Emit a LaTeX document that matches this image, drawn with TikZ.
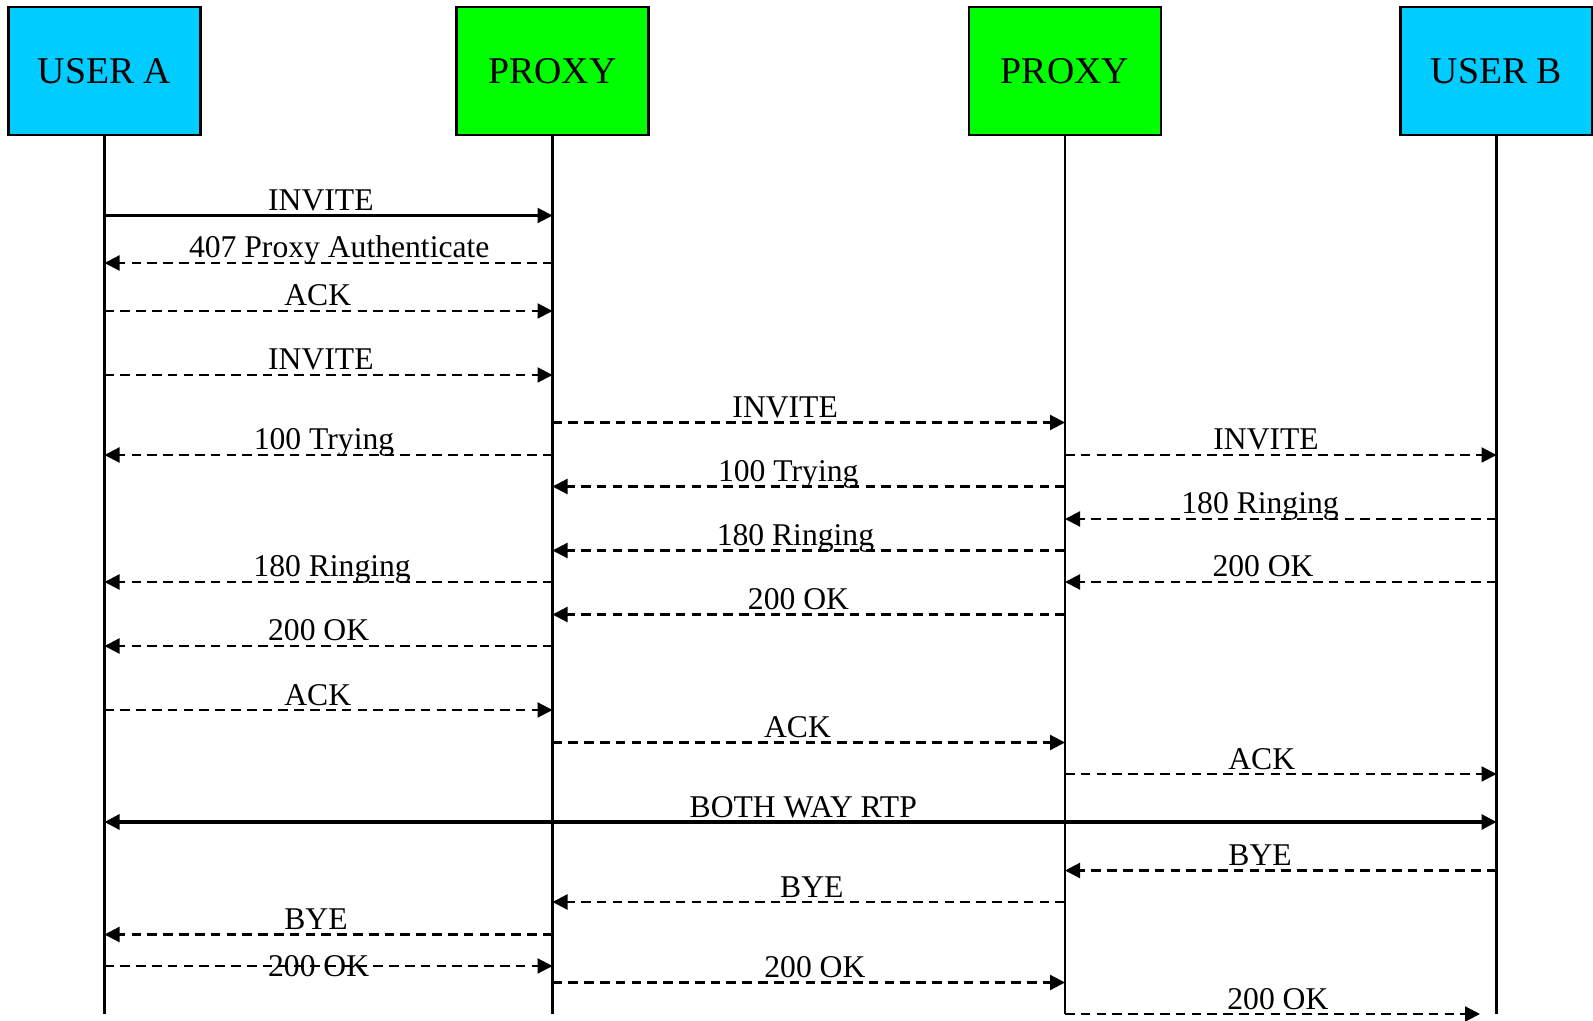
\documentclass[tikz,border=0pt]{standalone}
\usepackage{fontspec}
\setmainfont{Liberation Serif}
\usetikzlibrary{arrows.meta,positioning,calc}
\definecolor{ink}{HTML}{000000}
\definecolor{userfill}{HTML}{00CCFF}
\definecolor{proxyfill}{HTML}{00FF00}

\begin{document}
\begin{tikzpicture}[
  >={Triangle[length=0.3cm,width=0.3cm]},
  party/.style={draw=ink, line width=1.3pt, minimum width=3.84cm, minimum height=2.56cm,
    inner sep=0pt, font=\fontsize{21.5}{25}\selectfont},
  user/.style={party, fill=userfill},
  proxy/.style={party, fill=proxyfill},
  life/.style={draw=ink, line width=1.25pt},
  msg/.style={->, draw=ink, line width=1.25pt},
  dmsg/.style={msg, dash pattern=on 5.5pt off 3.5pt},
  rtp/.style={<->, draw=ink, line width=1.8pt},
  lbl/.style={font=\fontsize{18}{22}\selectfont, anchor=base, yshift=0.1cm, inner sep=0pt}
]
\useasboundingbox (0,0) rectangle (31.86,-20.42);

\node[user] (ua) at (2.09,-1.42) {USER A};
\node[proxy] (p1) at (11.05,-1.42) {PROXY};
\node[proxy] (p2) at (21.30,-1.42) {PROXY};
\node[user] (ub) at (29.93,-1.42) {USER B};

\coordinate (uaend) at (2.09,-20.28);
\coordinate (p1end) at (11.05,-20.28);
\coordinate (p2end) at (21.30,-20.28);
\coordinate (ubend) at (29.93,-20.28);
\foreach \n in {ua,p1,p2,ub}{
  \draw[life] (\n) -- (\n end);
}

\draw[msg] (ua |- 0,-4.31) -- node[lbl, pos=0.483] {INVITE} (p1 |- 0,-4.31);

\foreach \y/\s/\t/\p/\txt in {
  -5.26/p1/ua/0.476/407 Proxy Authenticate,
  -6.22/ua/p1/0.476/ACK,
  -7.50/ua/p1/0.483/INVITE,
  -8.45/p1/p2/0.454/INVITE,
  -9.10/p1/ua/0.510/100 Trying,
  -9.10/p2/ub/0.466/INVITE,
  -9.73/p2/p1/0.540/100 Trying,
  -10.38/ub/p2/0.548/180 Ringing,
  -11.01/p2/p1/0.526/180 Ringing,
  -11.64/p1/ua/0.492/180 Ringing,
  -11.64/ub/p2/0.541/200 OK,
  -12.29/p2/p1/0.520/200 OK,
  -12.92/p1/ua/0.522/200 OK,
  -14.20/ua/p1/0.476/ACK,
  -14.85/p1/p2/0.478/ACK,
  -15.48/p2/ub/0.456/ACK,
  -17.41/ub/p2/0.548/BYE,
  -18.04/p2/p1/0.494/BYE,
  -18.69/p1/ua/0.528/BYE,
  -19.65/p1/p2/0.512/200 OK}{
  \draw[dmsg] (\s |- 0,\y) -- node[lbl, pos=\p] {\txt} (\t |- 0,\y);
}

\draw[rtp] (ua |- 0,-16.44) -- node[lbl, pos=0.502] {BOTH WAY RTP} (ub |- 0,-16.44);

% crossed label
\draw[dmsg] (ua |- 0,-19.32) -- node[lbl, pos=0.478, anchor=center, yshift=-0.1cm] {200 OK} (p1 |- 0,-19.32);

\coordinate (okend) at (29.60,-20.28);
\draw[dmsg] (p2 |- 0,-20.28) -- node[lbl, pos=0.513] {200 OK} (okend);
\end{tikzpicture}
\end{document}
